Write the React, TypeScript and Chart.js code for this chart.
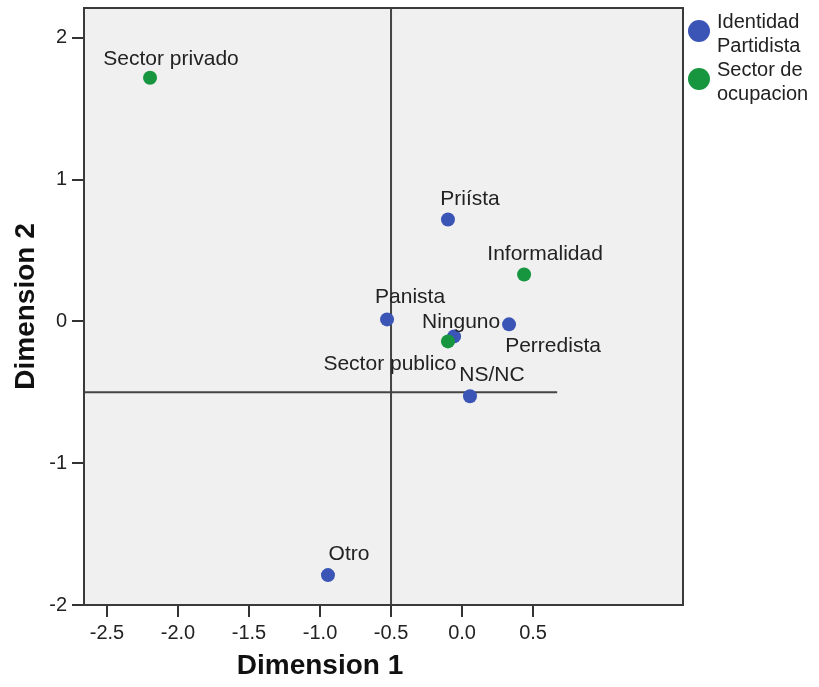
import React, { useEffect, useRef } from 'react';
import { Chart, registerables } from 'chart.js';

Chart.register(...registerables);

// Category points (joint plot of category points)
const partyLabels = ['Priísta', 'Panista', 'Perredista', 'Ninguno', 'NS/NC', 'Otro'];
const partyDim1 = [-0.099, -0.528, 0.331, -0.056, 0.056, -0.944];
const partyDim2 = [0.718, 0.014, -0.021, -0.106, -0.528, -1.789];

const sectorLabels = ['Sector privado', 'Informalidad', 'Sector publico'];
const sectorDim1 = [-2.197, 0.437, -0.099];
const sectorDim2 = [1.718, 0.331, -0.141];

const seriesNames = ['Identidad Partidista', 'Sector de ocupacion'];
const legendLines = [['Identidad', 'Partidista'], ['Sector de', 'ocupacion']];

const xTicks = [-2.5, -2.0, -1.5, -1.0, -0.5, 0.0, 0.5];
const yTicks = [-2, -1, 0, 1, 2];

// Axis ranges and reference lines
const xMin = -2.662;
const xMax = 1.556;
const yMin = -2.0;
const yMax = 2.21;
const refDim1 = -0.5;
const refDim2 = -0.5;
const refDim2LineEnd = 0.67;

// Label placement relative to each point (pixels, text centre)
const partyLabelOffsets = [
  [22, -20],
  [23, -22],
  [44, 22],
  [7, -14],
  [22, -21],
  [21, -21],
];
const sectorLabelOffsets = [
  [21, -19],
  [21, -20],
  [-58, 23],
];

const BLUE = '#3b55b6';
const GREEN = '#17963f';
const FONT = '"Liberation Sans", Arial, sans-serif';

const framePlugin = {
  id: 'frame',
  beforeDraw(chart: any) {
    const { ctx, chartArea: a } = chart;
    ctx.save();
    ctx.fillStyle = '#f0f0f0';
    ctx.fillRect(a.left, a.top, a.right - a.left, a.bottom - a.top);
    ctx.restore();
  },
  afterDatasetsDraw(chart: any) {
    const { ctx, chartArea: a } = chart;
    ctx.save();
    ctx.strokeStyle = '#3a3a3a';
    ctx.lineWidth = 2;
    ctx.strokeRect(a.left, a.top, a.right - a.left, a.bottom - a.top);
    ctx.restore();
  },
};

const pointLabelPlugin = {
  id: 'pointLabels',
  afterDatasetsDraw(chart: any) {
    const { ctx } = chart;
    ctx.save();
    ctx.font = `21px ${FONT}`;
    ctx.fillStyle = '#222';
    ctx.textAlign = 'center';
    ctx.textBaseline = 'middle';
    const groups = [
      { index: 0, labels: partyLabels, offsets: partyLabelOffsets },
      { index: 1, labels: sectorLabels, offsets: sectorLabelOffsets },
    ];
    groups.forEach((g) => {
      const meta = chart.getDatasetMeta(g.index);
      meta.data.forEach((el: any, i: number) => {
        const [dx, dy] = g.offsets[i];
        ctx.fillText(g.labels[i], el.x + dx, el.y + dy);
      });
    });
    ctx.restore();
  },
};

const titlesPlugin = {
  id: 'axisTitles',
  afterDraw(chart: any) {
    const { ctx, scales, chartArea: a } = chart;
    ctx.save();
    ctx.font = `bold 28px ${FONT}`;
    ctx.fillStyle = '#111';
    ctx.textAlign = 'center';
    ctx.textBaseline = 'middle';
    ctx.fillText('Dimension 1', scales.x.getPixelForValue(-1.0), 666);
    ctx.translate(26, (a.top + a.bottom) / 2);
    ctx.rotate(-Math.PI / 2);
    ctx.fillText('Dimension 2', 0, 0);
    ctx.restore();
  },
};

const legendPlugin = {
  id: 'sideLegend',
  afterDraw(chart: any) {
    const { ctx, chartArea: a } = chart;
    const colors = [BLUE, GREEN];
    ctx.save();
    ctx.font = `20px ${FONT}`;
    ctx.textAlign = 'left';
    ctx.textBaseline = 'middle';
    seriesNames.forEach((_, i) => {
      const cy = 31 + i * 48;
      const cx = a.right + 16;
      ctx.beginPath();
      ctx.arc(cx, cy, 11, 0, Math.PI * 2);
      ctx.fillStyle = colors[i];
      ctx.fill();
      ctx.fillStyle = '#222';
      legendLines[i].forEach((line, j) => {
        ctx.fillText(line, cx + 18, cy - 9 + j * 24);
      });
    });
    ctx.restore();
  },
};

export default function App() {
  const canvasRef = useRef<HTMLCanvasElement>(null);

  useEffect(() => {
    const canvas = canvasRef.current;
    if (!canvas) return;

    const tickFont = { family: FONT, size: 20 };

    const chart = new Chart(canvas, {
      type: 'scatter',
      data: {
        datasets: [
          {
            label: seriesNames[0],
            data: partyDim1.map((x, i) => ({ x, y: partyDim2[i] })),
            backgroundColor: BLUE,
            borderColor: BLUE,
            pointRadius: 7,
            pointBorderWidth: 0,
            order: 1,
          },
          {
            label: seriesNames[1],
            data: sectorDim1.map((x, i) => ({ x, y: sectorDim2[i] })),
            backgroundColor: GREEN,
            borderColor: GREEN,
            pointRadius: 7,
            pointBorderWidth: 0,
            order: 0,
          },
          {
            label: 'refV',
            data: [
              { x: refDim1, y: yMin },
              { x: refDim1, y: yMax },
            ],
            showLine: true,
            borderColor: '#444',
            borderWidth: 2,
            pointRadius: 0,
            order: 2,
          },
          {
            label: 'refH',
            data: [
              { x: xMin, y: refDim2 },
              { x: refDim2LineEnd, y: refDim2 },
            ],
            showLine: true,
            borderColor: '#444',
            borderWidth: 2,
            pointRadius: 0,
            order: 2,
          },
        ],
      },
      options: {
        responsive: false,
        animation: false,
        devicePixelRatio: 1,
        layout: { padding: { top: 8, right: 136, left: 0, bottom: 0 } },
        plugins: {
          legend: { display: false },
          tooltip: { enabled: false },
          title: { display: false },
        },
        scales: {
          x: {
            type: 'linear',
            min: xMin,
            max: xMax,
            afterBuildTicks: (s: any) => {
              s.ticks = xTicks.map((v) => ({ value: v }));
            },
            afterFit: (s: any) => {
              s.height = 82;
              s.paddingLeft = 0;
              s.paddingRight = 0;
            },
            ticks: {
              callback: (v: any) => Number(v).toFixed(1),
              font: tickFont,
              color: '#222',
              padding: 4,
              autoSkip: false,
              maxRotation: 0,
            },
            grid: {
              drawOnChartArea: false,
              drawTicks: true,
              tickLength: 12,
              color: '#333',
              lineWidth: 2,
            },
            border: { display: false },
          },
          y: {
            type: 'linear',
            min: yMin,
            max: yMax,
            afterBuildTicks: (s: any) => {
              s.ticks = yTicks.map((v) => ({ value: v }));
            },
            afterFit: (s: any) => {
              s.width = 84;
              s.paddingTop = 0;
              s.paddingBottom = 0;
            },
            ticks: {
              callback: (v: any) => String(v),
              font: tickFont,
              color: '#222',
              padding: 5,
              autoSkip: false,
            },
            grid: {
              drawOnChartArea: false,
              drawTicks: true,
              tickLength: 12,
              color: '#333',
              lineWidth: 2,
            },
            border: { display: false },
          },
        },
      },
      plugins: [framePlugin, pointLabelPlugin, titlesPlugin, legendPlugin],
    });

    return () => chart.destroy();
  }, []);

  return (
    <div style={{ position: 'absolute', left: 0, top: 0, width: 819, height: 687, background: '#fff' }}>
      <canvas ref={canvasRef} width={819} height={687} />
    </div>
  );
}
